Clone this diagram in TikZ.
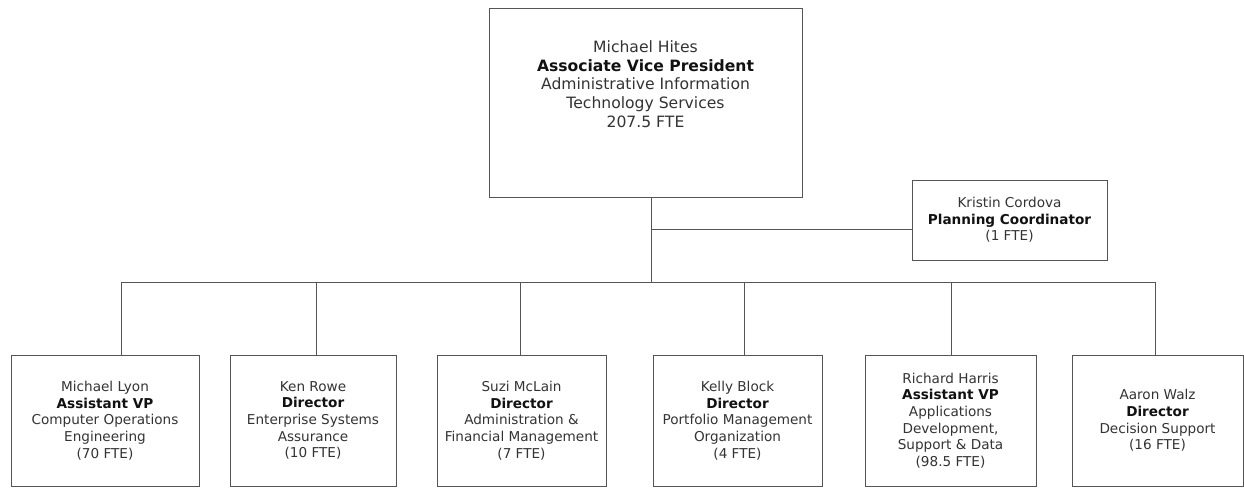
\documentclass[tikz,border=0pt]{standalone}
\usepackage{fontspec}
\setmainfont{DejaVu Sans}
\definecolor{txt}{HTML}{333333}
\definecolor{boldtxt}{HTML}{111111}
\definecolor{ln}{HTML}{555555}
\begin{document}
\begin{tikzpicture}[x=1pt,y=-1pt,
  box/.style={draw=ln,line width=1pt,rectangle,inner sep=0pt},
  bigtxt/.style={align=center,text=txt,font=\fontsize{15.6}{18.7}\selectfont,inner sep=0pt},
  smtxt/.style={align=center,text=txt,font=\fontsize{13.6}{16.7}\selectfont,inner sep=0pt},
  conn/.style={draw=ln,line width=1pt}]
\useasboundingbox (0,0) rectangle (1244,487);
% top box
\node[box,minimum width=313pt,minimum height=188pt] (top) at (645.5,103) {};
\node[bigtxt] (toptxt) at (645.5,84) {Michael Hites\\\textbf{\color{boldtxt}Associate Vice President}\\Administrative Information\\Technology Services\\207.5 FTE};
% planning
\node[box,smtxt,minimum width=195pt,minimum height=80pt] (plan) at (1009.5,220) {Kristin Cordova\\\textbf{\color{boldtxt}Planning Coordinator}\\(1 FTE)};
% bottom boxes
\node[box,smtxt,minimum width=188pt,minimum height=131pt] (b1) at (105,420.5) {Michael Lyon\\\textbf{\color{boldtxt}Assistant VP}\\Computer Operations\\Engineering\\(70 FTE)};
\node[box,smtxt,minimum width=166pt,minimum height=131pt] (b2) at (313,420.5) {Ken Rowe\\\textbf{\color{boldtxt}Director}\\Enterprise Systems\\Assurance\\(10 FTE)};
\node[box,smtxt,minimum width=169pt,minimum height=131pt] (b3) at (521.5,420.5) {Suzi McLain\\\textbf{\color{boldtxt}Director}\\Administration \&\\Financial Management\\(7 FTE)};
\node[box,smtxt,minimum width=169pt,minimum height=131pt] (b4) at (737.5,420.5) {Kelly Block\\\textbf{\color{boldtxt}Director}\\Portfolio Management\\Organization\\(4 FTE)};
\node[box,smtxt,minimum width=171pt,minimum height=131pt] (b5) at (950.5,420.5) {Richard Harris\\\textbf{\color{boldtxt}Assistant VP}\\Applications\\Development,\\Support \& Data\\(98.5 FTE)};
\node[box,smtxt,minimum width=171pt,minimum height=131pt] (b6) at (1157.5,420.5) {Aaron Walz\\\textbf{\color{boldtxt}Director}\\Decision Support\\(16 FTE)};
% connector points
\coordinate (j) at (651,282);
\coordinate (k) at (651,229);
\coordinate (t1) at (121,355);
\coordinate (t2) at (316,355);
\coordinate (t3) at (520,355);
\coordinate (t4) at (744,355);
\coordinate (t5) at (951,355);
\coordinate (t6) at (1155,355);
\draw[conn] (top.south -| j) -- (j);
\draw[conn] (k) -- (k -| plan.west);
\draw[conn] (t1 |- j) -- (t6 |- j);
\foreach \i in {1,...,6} {\draw[conn] (t\i |- j) -- (t\i);}
\end{tikzpicture}
\end{document}
